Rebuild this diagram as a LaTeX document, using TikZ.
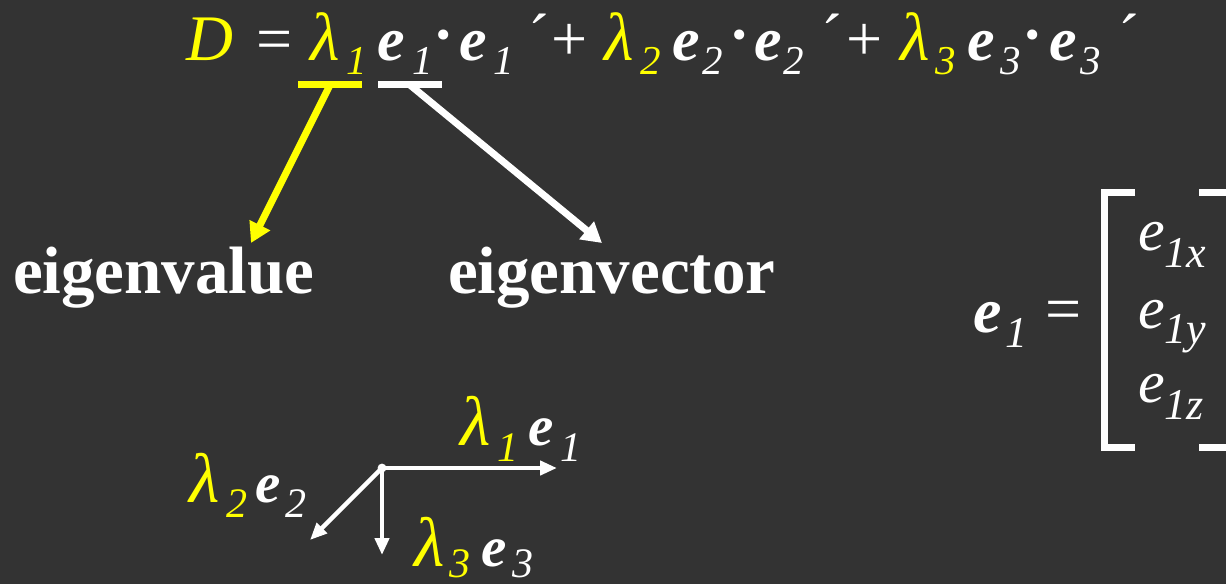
\documentclass[tikz,border=0pt]{standalone}
\usepackage{fontspec}
\setmainfont{Liberation Serif}
\usetikzlibrary{arrows.meta}
\definecolor{bg}{HTML}{333333}
\definecolor{ylw}{HTML}{FFFF00}
\newcommand\fsz[1]{\fontsize{#1}{#1}\selectfont}
\begin{document}
\begin{tikzpicture}[x=0.5pt,y=-0.5pt,
  t/.style={inner sep=0pt, outer sep=0pt, anchor=base west, text=white, font=\fsz{32}},
  yl/.style={t, text=ylw},
  lam/.style={font=\fsz{34}\itshape},
  bve/.style={font=\fsz{31}\bfseries\itshape},
  sb/.style={font=\fsz{20.5}\itshape},
  pr/.style={font=\fsz{32}},
  bar/.style={line width=3.5pt},
  bigarrow/.style={line width=3.5pt, -{Triangle[length=10pt,width=11pt]}},
  axarrow/.style={line width=2.2pt, white, -{Triangle[length=8.5pt,width=7pt]}},
  word/.style={t, font=\fsz{33.5}\bfseries},
  blam/.style={font=\fsz{35}\itshape},
  bbe/.style={font=\fsz{28.5}\bfseries\itshape},
  bsb/.style={font=\fsz{21}\itshape},
  me/.style={font=\fsz{30}\itshape},
  msb/.style={font=\fsz{22}\itshape}
]
\fill[bg] (0,0) rectangle (1226,584);
\useasboundingbox (0,0) rectangle (1226,584);

% ---- top formula ----
\node[yl,font=\fsz{32.5}\itshape] (D) at (186,60) {D};
\node[t] (eqa) at (256,60) {=};
\node[yl,lam] (la1) at (310,60) {λ};
\node[yl,sb] (la1s) at (346,74) {1};
\node[t,bve] (ea1) at (377,60) {e};
\node[t,sb] (ea1s) at (412,74) {1};
\node[t,bve] (da1) at (435,55) {·};
\node[t,bve] (eb1) at (459,60) {e};
\node[t,sb] (eb1s) at (493,74) {1};
\node[t,pr] (pa1) at (528,58) {´};
\node[t] (plus1) at (551,60) {+};
\node[yl,lam] (la2) at (604,60) {λ};
\node[yl,sb] (la2s) at (640,74) {2};
\node[t,bve] (ea2) at (672,60) {e};
\node[t,sb] (ea2s) at (702,74) {2};
\node[t,bve] (da2) at (731,55) {·};
\node[t,bve] (eb2) at (754,60) {e};
\node[t,sb] (eb2s) at (783,74) {2};
\node[t,pr] (pa2) at (821,58) {´};
\node[t] (plus2) at (846,60) {+};
\node[yl,lam] (la3) at (900,60) {λ};
\node[yl,sb] (la3s) at (935,74) {3};
\node[t,bve] (ea3) at (967,60) {e};
\node[t,sb] (ea3s) at (1000,74) {3};
\node[t,bve] (da3) at (1024,55) {·};
\node[t,bve] (eb3) at (1049,60) {e};
\node[t,sb] (eb3s) at (1080,74) {3};
\node[t,pr] (pa3) at (1118,58) {´};

% ---- underline bars ----
\coordinate (ybarL) at (298,84.5);
\coordinate (ybarR) at (362,84.5);
\coordinate (wbarL) at (378,84.5);
\coordinate (wbarR) at (442,84.5);
\coordinate (ystart) at (330,85);
\coordinate (wstart) at (410,85);
\coordinate (yend) at (251,243);
\coordinate (wend) at (602,243);
\draw[bar, ylw] (ybarL) -- (ybarR);
\draw[bar, white] (wbarL) -- (wbarR);
\draw[bigarrow, ylw] (ystart) -- (yend);
\draw[bigarrow, white] (wstart) -- (wend);

% ---- words ----
\node[word] (eigval) at (13,293) {eigenvalue};
\node[word] (eigvec) at (448,293) {eigenvector};

% ---- axes ----
\coordinate (O) at (382,468);
\coordinate (ax1) at (557,468);
\coordinate (ax2) at (310,540);
\coordinate (ax3) at (382,555);
\draw[axarrow] (O) -- (ax1);
\draw[axarrow] (O) -- (ax2);
\draw[axarrow] (O) -- (ax3);
\fill[white] (O) circle (2.2pt);

\node[yl,blam] (bl1) at (460,445) {λ};
\node[yl,bsb] (bl1s) at (497,461) {1};
\node[t,bbe] (be1) at (528,445) {e};
\node[t,bsb] (be1s) at (560,461) {1};

\node[yl,blam] (bl2) at (189,502) {λ};
\node[yl,bsb] (bl2s) at (226,517) {2};
\node[t,bbe] (be2) at (255,502) {e};
\node[t,bsb] (be2s) at (285,517) {2};

\node[yl,blam] (bl3) at (414,566) {λ};
\node[yl,bsb] (bl3s) at (449,577) {3};
\node[t,bbe] (be3) at (481,566) {e};
\node[t,bsb] (be3s) at (512,577) {3};

% ---- matrix ----
\node[t,font=\fsz{32}\bfseries\itshape] (me1) at (973,332) {e};
\node[t,msb] (me1s) at (1005,347) {1};
\node[t] (meq) at (1045,330) {=};
\node[t,me] (mx) at (1138,250) {e};
\node[t,msb] (mxs) at (1164,267) {1x};
\node[t,me] (my) at (1138,328) {e};
\node[t,msb] (mys) at (1164,343) {1y};
\node[t,me] (mz) at (1138,402) {e};
\node[t,msb] (mzs) at (1164,419) {1z};
\begin{scope}
\clip (0,0) rectangle (1226,584);
\draw[bar, white, line join=miter] (1135,192) -- (1104,192) -- (1104,447) -- (1135,447);
\draw[bar, white, line join=miter] (1199,192) -- (1236,192) -- (1236,447) -- (1199,447);
\end{scope}
\end{tikzpicture}
\end{document}
